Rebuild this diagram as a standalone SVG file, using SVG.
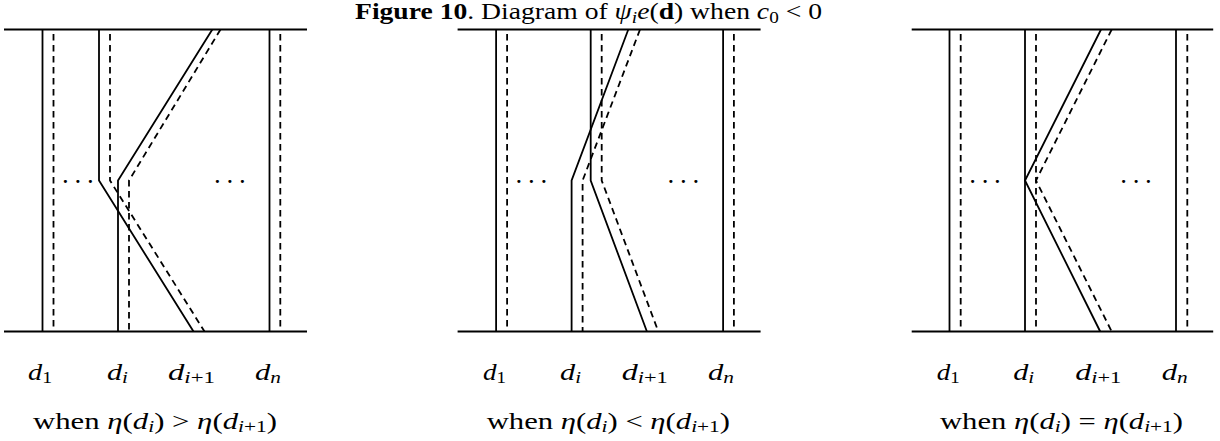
<svg xmlns="http://www.w3.org/2000/svg" width="1220" height="441" viewBox="0 0 1220 441">
<style>
  .s { fill: none; stroke: #000; stroke-width: 1.8; stroke-linejoin: miter; }
  .d { fill: none; stroke: #000; stroke-width: 1.8; stroke-dasharray: 6.5 4.5; }
  .h { fill: none; stroke: #000; stroke-width: 1.9; }
  .t { font-family: "Liberation Serif", "Times New Roman", serif; font-size: 23px; fill: #000; }
  .i { font-style: italic; }
  .b { font-weight: bold; }
  .sub { font-size: 16px; }
  .dots { font-family: "Liberation Serif", serif; font-size: 19px; font-weight: bold; letter-spacing: 7.7px; fill: #000; }
</style>
<rect width="1220" height="441" fill="#fff"/>

<text id="title" class="t" x="355" y="19" textLength="467" lengthAdjust="spacingAndGlyphs"><tspan class="b">Figure 10</tspan>. Diagram of <tspan class="i">ψ</tspan><tspan class="i sub" dy="4">i</tspan><tspan class="i" dy="-4">e</tspan>(<tspan class="b">d</tspan>) when <tspan class="i">c</tspan><tspan class="sub" dy="4">0</tspan><tspan dy="-4"> &lt; 0</tspan></text>

<!-- Panel 1 -->
<g id="panel1">
  <line class="h" x1="4" y1="29.5" x2="307" y2="29.5"/>
  <line class="h" x1="4" y1="331.5" x2="307" y2="331.5"/>
  <line class="s" x1="42.5" y1="29.5" x2="42.5" y2="331.5"/>
  <line class="d" x1="53.5" y1="34" x2="53.5" y2="331.5"/>
  <path class="s" d="M99,29.5 V180.5 L193.5,331.5"/>
  <path class="d" d="M110,34 V180.5 L204.5,331.5"/>
  <path class="s" d="M212.3,29.5 L118,180.5 V331.5"/>
  <path class="d" d="M220.5,29.5 L129,180.5 V331.5"/>
  <line class="s" x1="269.5" y1="29.5" x2="269.5" y2="331.5"/>
  <line class="d" x1="280.3" y1="34" x2="280.3" y2="331.5"/>
  <text class="dots" x="63" y="183">...</text>
  <text class="dots" x="215" y="183">...</text>
  <text class="t i" x="28" y="380" textLength="24" lengthAdjust="spacingAndGlyphs">d<tspan class="sub" font-style="normal" dy="3">1</tspan></text>
  <text class="t i" x="107" y="380" textLength="21" lengthAdjust="spacingAndGlyphs">d<tspan class="sub" dy="3">i</tspan></text>
  <text class="t i" x="168" y="380" textLength="47" lengthAdjust="spacingAndGlyphs">d<tspan class="sub" dy="3">i</tspan><tspan class="sub" font-style="normal">+1</tspan></text>
  <text class="t i" x="255" y="380" textLength="26" lengthAdjust="spacingAndGlyphs">d<tspan class="sub" dy="3">n</tspan></text>
  <text class="t" x="33" y="429" textLength="244" lengthAdjust="spacingAndGlyphs">when <tspan class="i">η</tspan>(<tspan class="i">d</tspan><tspan class="i sub" dy="3">i</tspan><tspan dy="-3">) &gt; </tspan><tspan class="i">η</tspan>(<tspan class="i">d</tspan><tspan class="i sub" dy="3">i</tspan><tspan class="sub">+1</tspan><tspan dy="-3">)</tspan></text>
</g>

<!-- Panel 2 -->
<g id="panel2" transform="translate(453.6,0)">
  <line class="h" x1="4" y1="29.5" x2="307" y2="29.5"/>
  <line class="h" x1="4" y1="331.5" x2="307" y2="331.5"/>
  <line class="s" x1="42.5" y1="29.5" x2="42.5" y2="331.5"/>
  <line class="d" x1="53.5" y1="34" x2="53.5" y2="331.5"/>
  <path class="s" d="M137.1,29.5 V180.5 L193.3,331.5"/>
  <path class="d" d="M148.1,34 V180.5 L204.7,331.5"/>
  <path class="s" d="M174.7,29.5 L118,180.5 V331.5"/>
  <path class="d" d="M186.4,29.5 L129,180.5 V331.5"/>
  <line class="s" x1="269.5" y1="29.5" x2="269.5" y2="331.5"/>
  <line class="d" x1="280.3" y1="34" x2="280.3" y2="331.5"/>
  <text class="dots" x="63" y="183">...</text>
  <text class="dots" x="215" y="183">...</text>
  <text class="t i" x="29.4" y="380" textLength="23" lengthAdjust="spacingAndGlyphs">d<tspan class="sub" font-style="normal" dy="3">1</tspan></text>
  <text class="t i" x="106.4" y="380" textLength="21" lengthAdjust="spacingAndGlyphs">d<tspan class="sub" dy="3">i</tspan></text>
  <text class="t i" x="168.1" y="380" textLength="46" lengthAdjust="spacingAndGlyphs">d<tspan class="sub" dy="3">i</tspan><tspan class="sub" font-style="normal">+1</tspan></text>
  <text class="t i" x="254.4" y="380" textLength="26" lengthAdjust="spacingAndGlyphs">d<tspan class="sub" dy="3">n</tspan></text>
  <text class="t" x="33.1" y="429" textLength="243.3" lengthAdjust="spacingAndGlyphs">when <tspan class="i">η</tspan>(<tspan class="i">d</tspan><tspan class="i sub" dy="3">i</tspan><tspan dy="-3">) &lt; </tspan><tspan class="i">η</tspan>(<tspan class="i">d</tspan><tspan class="i sub" dy="3">i</tspan><tspan class="sub">+1</tspan><tspan dy="-3">)</tspan></text>
</g>

<!-- Panel 3 -->
<g id="panel3" transform="translate(907.2,0)">
  <line class="h" x1="4.5" y1="29.5" x2="306" y2="29.5"/>
  <line class="h" x1="4.5" y1="331.5" x2="306" y2="331.5"/>
  <line class="s" x1="42.3" y1="29.5" x2="42.3" y2="331.5"/>
  <line class="d" x1="53.5" y1="34" x2="53.5" y2="331.5"/>
  <line class="s" x1="117.8" y1="29.5" x2="117.8" y2="331.5"/>
  <line class="d" x1="128.8" y1="34" x2="128.8" y2="331.5"/>
  <path class="s" d="M193.8,29.5 L117.8,180.5 L193,331.5"/>
  <path class="d" d="M204.5,29.5 L128.8,180.5 L204.5,331.5"/>
  <line class="s" x1="268.8" y1="29.5" x2="268.8" y2="331.5"/>
  <line class="d" x1="280.1" y1="34" x2="280.1" y2="331.5"/>
  <text class="dots" x="63" y="183">...</text>
  <text class="dots" x="214" y="183">...</text>
  <text class="t i" x="29.5" y="380" textLength="23" lengthAdjust="spacingAndGlyphs">d<tspan class="sub" font-style="normal" dy="3">1</tspan></text>
  <text class="t i" x="106" y="380" textLength="21" lengthAdjust="spacingAndGlyphs">d<tspan class="sub" dy="3">i</tspan></text>
  <text class="t i" x="168" y="380" textLength="46" lengthAdjust="spacingAndGlyphs">d<tspan class="sub" dy="3">i</tspan><tspan class="sub" font-style="normal">+1</tspan></text>
  <text class="t i" x="254.5" y="380" textLength="26" lengthAdjust="spacingAndGlyphs">d<tspan class="sub" dy="3">n</tspan></text>
  <text class="t" x="32.8" y="429" textLength="243" lengthAdjust="spacingAndGlyphs">when <tspan class="i">η</tspan>(<tspan class="i">d</tspan><tspan class="i sub" dy="3">i</tspan><tspan dy="-3">) = </tspan><tspan class="i">η</tspan>(<tspan class="i">d</tspan><tspan class="i sub" dy="3">i</tspan><tspan class="sub">+1</tspan><tspan dy="-3">)</tspan></text>
</g>
</svg>
